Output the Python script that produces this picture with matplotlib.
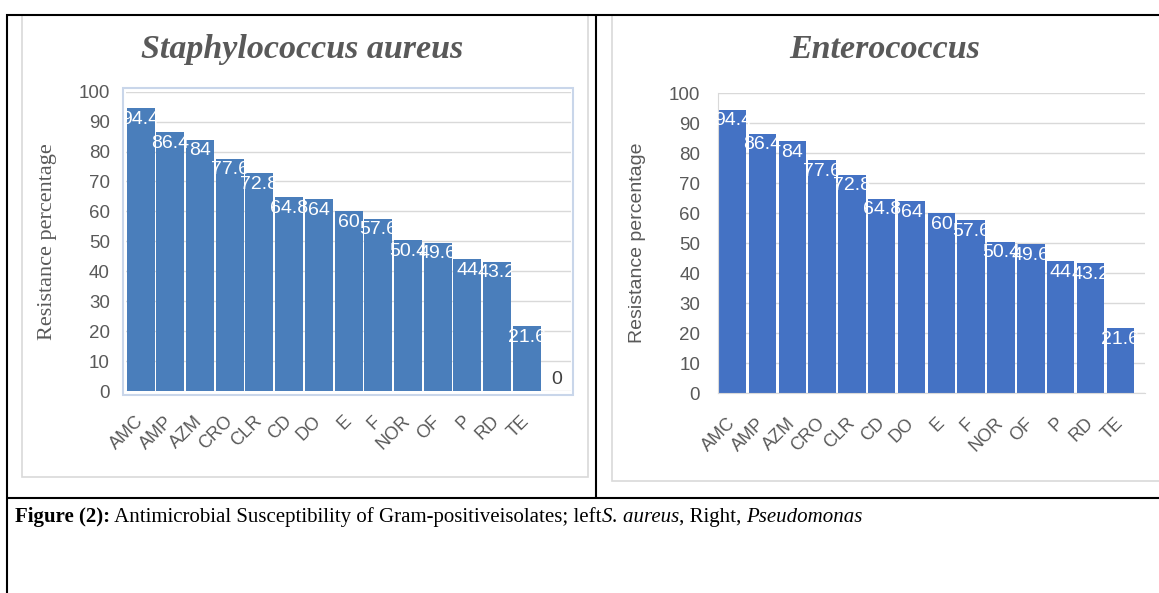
import matplotlib
matplotlib.use("Agg")
import matplotlib.pyplot as plt
from matplotlib.lines import Line2D
from matplotlib.patches import Rectangle

# ---------------- data ----------------
left_title = "Staphylococcus aureus"
right_title = "Enterococcus"
ylabel = "Resistance percentage"
left_categories = ["AMC", "AMP", "AZM", "CRO", "CLR", "CD", "DO", "E", "F",
                   "NOR", "OF", "P", "RD", "TE", ""]
left_values = [94.4, 86.4, 84, 77.6, 72.8, 64.8, 64, 60, 57.6, 50.4, 49.6,
               44, 43.2, 21.6, 0]
right_categories = ["AMC", "AMP", "AZM", "CRO", "CLR", "CD", "DO", "E", "F",
                    "NOR", "OF", "P", "RD", "TE"]
right_values = [94.4, 86.4, 84, 77.6, 72.8, 64.8, 64, 60, 57.6, 50.4, 49.6,
                44, 43.2, 21.6]
yticks = [0, 10, 20, 30, 40, 50, 60, 70, 80, 90, 100]
caption_parts = [("Figure (2):", "bold", "normal"),
                 (" Antimicrobial Susceptibility of Gram-positiveisolates; left", "normal", "normal"),
                 ("S. aureus", "normal", "italic"),
                 (", Right, ", "normal", "normal"),
                 ("Pseudomonas", "normal", "italic")]

W, H = 1159, 593
fig = plt.figure(figsize=(W / 100, H / 100), dpi=100)
fig.patch.set_facecolor("white")


def fx(x):
    return x / W


def fy(y):
    return 1 - y / H


def px_axes(x0, y0, x1, y1):
    return fig.add_axes([fx(x0), fy(y1), fx(x1) - fx(x0), fy(y0) - fy(y1)])


def fig_line(x0, y0, x1, y1, color, lw):
    fig.add_artist(Line2D([fx(x0), fx(x1)], [fy(y0), fy(y1)], color=color,
                          lw=lw, transform=fig.transFigure, solid_capstyle="butt"))


def fig_rect(x0, y0, x1, y1, color, lw):
    fig.add_artist(Rectangle((fx(x0), fy(y1)), fx(x1) - fx(x0), fy(y0) - fy(y1),
                             fill=False, edgecolor=color, lw=lw,
                             transform=fig.transFigure))


GREY = "#595959"
GRID = "#D9D9D9"

# chart area borders
fig_rect(22, 15, 588, 477, GRID, 1.2)
fig_rect(612, 15, 1160, 481, GRID, 1.2)
# left plot-area frame
fig_rect(123, 88, 573, 395, "#C9D6EA", 1.5)


def draw_panel(ax, cats, vals, color, width, xmax, tick_pad, zero_col):
    x = list(range(len(cats)))
    ax.set_xlim(-0.5, xmax)
    ax.set_ylim(0, 100)
    ax.set_axisbelow(True)
    ax.yaxis.grid(True, color=GRID, lw=1.0)
    ax.bar(x, vals, width=width, color=color, zorder=2)
    for xi, v in zip(x, vals):
        if v == 0:
            ax.annotate(f"{v:g}", (xi, v), xytext=(0, 8.5), textcoords="offset points",
                        ha="center", va="center", color=zero_col, fontsize=14,
                        family="Liberation Sans", zorder=4)
        else:
            ax.annotate(f"{v:g}", (xi, v), xytext=(0, -8), textcoords="offset points",
                        ha="center", va="center", color="white", fontsize=14,
                        family="Liberation Sans", zorder=4, annotation_clip=False)
    ax.set_yticks(yticks)
    ax.set_yticklabels([str(t) for t in yticks], fontsize=13.5, color=GREY,
                       family="Liberation Sans")
    ax.set_xticks(x)
    ax.set_xticklabels(cats, rotation=45, ha="right", va="center",
                       rotation_mode="anchor", fontsize=13, color=GREY,
                       family="Liberation Sans")
    ax.tick_params(axis="y", length=0, pad=tick_pad)
    ax.tick_params(axis="x", length=0, pad=20)
    for s in ax.spines.values():
        s.set_visible(False)
    ax.set_facecolor("none")


axL = px_axes(125.8, 91.7, 571.3, 391)
draw_panel(axL, left_categories, left_values, "#4A7EBB", 0.94, 14.5, 11.4, "#404040")

axR = px_axes(717.8, 93, 1145, 393)
draw_panel(axR, right_categories, right_values, "#4472C4", 0.92, 13.83, 12.8, "#404040")
axR.spines["left"].set_visible(True)
axR.spines["left"].set_color(GRID)
axR.spines["bottom"].set_visible(True)
axR.spines["bottom"].set_color(GRID)

# titles
fig.text(fx(302.5), fy(58), left_title, ha="center", va="baseline",
         fontsize=24.5, fontweight="bold", fontstyle="italic",
         family="Liberation Serif", color=GREY)
fig.text(fx(885), fy(58), right_title, ha="center", va="baseline",
         fontsize=24.5, fontweight="bold", fontstyle="italic",
         family="Liberation Serif", color=GREY)

# y labels
fig.text(fx(48), fy(242), ylabel, rotation=90, ha="center", va="center",
         fontsize=16, family="Liberation Serif", color=GREY)
fig.text(fx(637), fy(243), ylabel, rotation=90, ha="center", va="center",
         fontsize=14, family="Liberation Sans", color=GREY)

# table lines
fig_line(6, 15, 1159, 15, "black", 1.5)
fig_line(7, 14, 7, 593, "black", 1.5)
fig_line(596, 15, 596, 498, "black", 1.5)
fig_line(7, 498, 1159, 498, "black", 1.5)

# caption
renderer = fig.canvas.get_renderer()
xpos = 15
for txt, weight, style in caption_parts:
    t = fig.text(fx(xpos), fy(522), txt, ha="left", va="baseline", fontsize=15,
                 fontweight=weight, fontstyle=style, family="Liberation Serif",
                 color="black")
    bb = t.get_window_extent(renderer=renderer)
    xpos = bb.x1

fig.savefig("out.png", dpi=100)
